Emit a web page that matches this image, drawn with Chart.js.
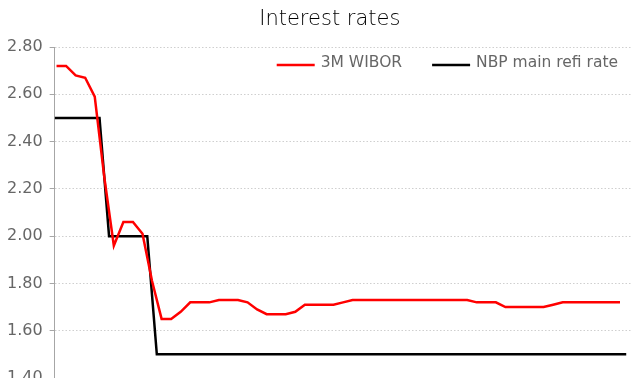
<!DOCTYPE html>
<html lang="en">
<head>
    <meta charset="UTF-8">
    <title>Interest rates</title>
    <script src="https://cdn.jsdelivr.net/npm/chart.js@4.4.0/dist/chart.umd.min.js"></script>
    <style>
        html, body { margin: 0; padding: 0; overflow: hidden; background: #fff; }
        #wrap { position: relative; width: 633px; height: 399px; }
    </style>
</head>
<body>
    <div id="wrap"><canvas id="rates"></canvas></div>
    <script>
        // datos (mensual, 60 puntos)
        const chartTitle = 'Interest rates';
        const months = [0,1,2,3,4,5,6,7,8,9,10,11,12,13,14,15,16,17,18,19,20,21,22,23,24,25,26,27,28,29,
                        30,31,32,33,34,35,36,37,38,39,40,41,42,43,44,45,46,47,48,49,50,51,52,53,54,55,56,57,58,59];
        const wibor = [2.72,2.72,2.68,2.67,2.59,2.25,1.96,2.06,2.06,2.01,
                       1.81,1.65,1.65,1.68,1.72,1.72,1.72,1.73,1.73,1.73,
                       1.72,1.69,1.67,1.67,1.67,1.68,1.71,1.71,1.71,1.71,
                       1.72,1.73,1.73,1.73,1.73,1.73,1.73,1.73,1.73,1.73,
                       1.73,1.73,1.73,1.73,1.72,1.72,1.72,1.70,1.70,1.70,
                       1.70,1.70,1.71,1.72,1.72,1.72,1.72,1.72,1.72,1.72];
        // tipo de referencia: cambios a mitad de mes
        const refiX = [-0.2, 4.5, 5.5, 9.5, 10.5, 59.65];
        const refiY = [2.50, 2.50, 2.00, 2.00, 1.50, 1.50];
        const yTicks = [1.40, 1.60, 1.80, 2.00, 2.20, 2.40, 2.60, 2.80];

        const font = "'DejaVu Sans', sans-serif";
        Chart.defaults.font.family = font;

        // leyenda y titulo dentro del area del grafico
        const insideLegend = {
            id: 'insideLegend',
            afterDraw(chart) {
                const {ctx, chartArea} = chart;
                ctx.save();
                ctx.font = '15.5px ' + font;
                ctx.textBaseline = 'middle';
                let x = chartArea.right - 13;
                const y = chartArea.top + 16;
                chart.data.datasets.slice().reverse().forEach(ds => {
                    const w = ctx.measureText(ds.label).width;
                    ctx.fillStyle = '#666666';
                    ctx.fillText(ds.label, x - w, y);
                    x -= w + 6;
                    ctx.strokeStyle = ds.borderColor;
                    ctx.lineWidth = 2.5;
                    ctx.beginPath();
                    ctx.moveTo(x - 38, y + 2);
                    ctx.lineTo(x, y + 2);
                    ctx.stroke();
                    x -= 38 + 30;
                });
                ctx.font = '300 21px ' + font;
                ctx.textAlign = 'center';
                ctx.fillStyle = '#000000';
                ctx.fillText(chartTitle, (chartArea.left + chartArea.right) / 2 - 13, 20);
                ctx.restore();
            }
        };

        const ctx = document.getElementById('rates').getContext('2d');
        const myChart = new Chart(ctx, {
            type: 'line',
            data: {
                datasets: [{
                    label: '3M WIBOR',
                    data: months.map((m, i) => ({x: m, y: wibor[i]})),
                    borderColor: '#ff0000',
                    borderWidth: 2.5,
                    pointRadius: 0,
                    tension: 0
                }, {
                    label: 'NBP main refi rate',
                    data: refiX.map((m, i) => ({x: m, y: refiY[i]})),
                    borderColor: '#000000',
                    borderWidth: 2.5,
                    pointRadius: 0,
                    tension: 0
                }]
            },
            options: {
                responsive: true,
                maintainAspectRatio: false,
                animation: false,
                layout: { padding: { left: 0, right: 2, top: 47, bottom: 13 } },
                plugins: {
                    legend: { display: false },
                    title: { display: false },
                    tooltip: { enabled: false }
                },
                scales: {
                    x: {
                        type: 'linear',
                        min: -0.2,
                        max: 60.15,
                        ticks: { display: false },
                        grid: { display: false },
                        border: { color: '#bfbfbf', width: 1 }
                    },
                    y: {
                        min: yTicks[0],
                        max: yTicks[yTicks.length - 1],
                        afterBuildTicks: axis => { axis.ticks = yTicks.map(v => ({value: v})); },
                        ticks: {
                            callback: v => v.toFixed(2),
                            color: '#666666',
                            padding: 7,
                            font: { size: 16 }
                        },
                        grid: {
                            color: '#cfcfcf',
                            tickLength: 5,
                            tickColor: '#a6a6a6',
                            tickBorderDash: []
                        },
                        border: { color: '#a6a6a6', width: 1, dash: [1.5, 2] }
                    }
                }
            },
            plugins: [insideLegend]
        });
    </script>
</body>
</html>
